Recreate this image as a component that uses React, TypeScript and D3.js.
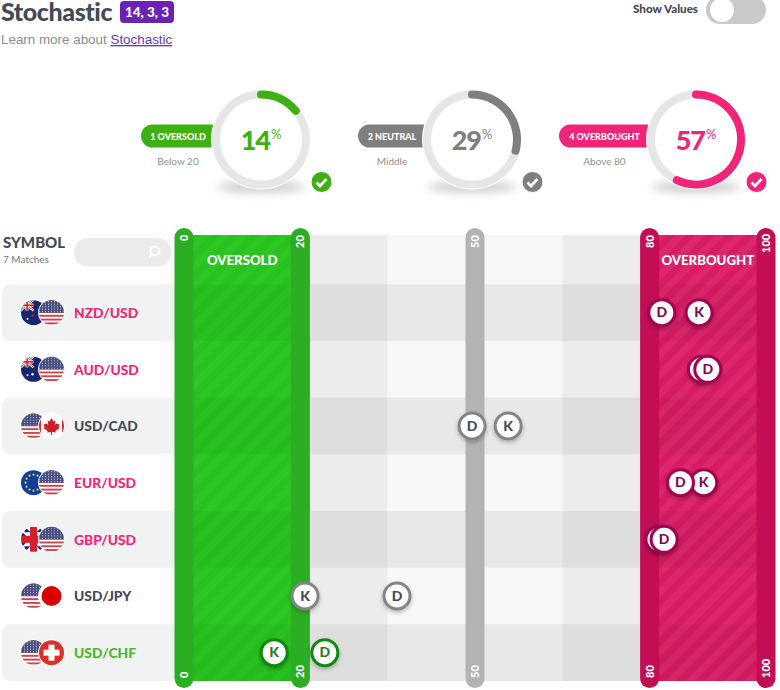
import React from "react";
import * as d3 from "d3";

const FONT = "Lato, 'Noto Sans', sans-serif";
const symbols = ["NZD/USD", "AUD/USD", "USD/CAD", "EUR/USD", "GBP/USD", "USD/JPY", "USD/CHF"];
const kValues = [88.5, 88.9, 55.7, 89.3, 81.6, 20.8, 15.5];
const dValues = [82.1, 90, 49.5, 85.3, 82.5, 36.6, 24.2];
const zones = ["over", "over", "mid", "over", "over", "mid", "under"];
const baseFlags = ["nz", "au", "us", "eu", "gb", "us", "us"];
const quoteFlags = ["us", "us", "ca", "us", "us", "jp", "ch"];
const summaryLabels = ["1 OVERSOLD", "2 NEUTRAL", "4 OVERBOUGHT"];
const summaryNotes = ["Below 20", "Middle", "Above 80"];
const summaryPercents = [14, 29, 57];
const summaryColors = ["#3fb014", "#7f7f7f", "#f0257a"];
const summaryCentres = [261, 472, 696];
const pillLefts = [141, 358, 559];
const axisTicks = [0, 20, 50, 80, 100];
const columnStops = [20, 35, 65, 80];
const columnFills = ["#ececec", "#f7f7f7", "#ececec"];
const shadeStops = [0, 20, 80, 100];
const shadeOpacity = [0.03, 0.06, 0.04];

const x = d3.scaleLinear().domain([0, 100]).range([184, 766]);
const y = d3.scaleBand<number>().domain(d3.range(symbols.length)).range([284.3, 681]);

function ringPath(percent: number) {
  const p = d3.path();
  const start = -Math.PI / 2;
  const end = start + (percent / 100) * 2 * Math.PI;
  p.arc(0, 0, 45, start, percent >= 100 ? start + 2 * Math.PI - 0.0001 : end);
  return p.toString();
}

const zoneStyle: Record<string, { border: string; ink: string; label: string }> = {
  over: { border: "#a30552", ink: "#7d0b55", label: "#f0257a" },
  mid: { border: "#848484", ink: "#454b57", label: "#454b57" },
  under: { border: "#0d8a0d", ink: "#2f7a1e", label: "#4cb52e" },
};

function UsFlag() {
  return (
    <g>
      <rect x={-13} y={-13} width={26} height={26} fill="#fff" />
      {d3.range(0, 7).map((i) => (
        <rect key={i} x={-13} y={-13 + i * 3.8} width={26} height={1.9} fill="#c8474f" />
      ))}
      <rect x={-13} y={-13} width={26} height={13} fill="#47507f" />
      {d3.range(0, 5).map((r) =>
        d3.range(0, 9).map((c) => (
          <circle key={`${r}-${c}`} cx={-12 + c * 3} cy={-11 + r * 2.5} r={0.55} fill="#c9cde0" />
        ))
      )}
    </g>
  );
}

function Flag({ code }: { code: string }) {
  if (code === "us") return <UsFlag />;
  if (code === "nz" || code === "au") {
    return (
      <g>
        <rect x={-13} y={-13} width={26} height={26} fill="#17266e" />
        <path d="M-13,-13L0,-2M0,-13L-13,-2" stroke="#fff" strokeWidth={2.4} />
        <path d="M-13,-13L0,-2M0,-13L-13,-2" stroke="#d0202e" strokeWidth={0.9} />
        <rect x={-13} y={-9} width={13} height={3} fill="#fff" />
        <rect x={-8} y={-13} width={3} height={11} fill="#fff" />
        <rect x={-13} y={-8.2} width={13} height={1.6} fill="#d0202e" />
        <rect x={-7.2} y={-13} width={1.6} height={11} fill="#d0202e" />
        <circle cx={-1} cy={code === "nz" ? 3 : 5} r={1.2} fill={code === "nz" ? "#d0202e" : "#fff"} />
        <circle cx={-6} cy={6} r={1} fill="#fff" />
      </g>
    );
  }
  if (code === "eu") {
    return (
      <g>
        <rect x={-13} y={-13} width={26} height={26} fill="#0f3d9c" />
        {d3.range(0, 12).map((i) => (
          <circle key={i} cx={8 * Math.cos((i * Math.PI) / 6)} cy={8 * Math.sin((i * Math.PI) / 6)} r={1.1} fill="#f2cb2d" />
        ))}
      </g>
    );
  }
  if (code === "gb") {
    return (
      <g>
        <rect x={-13} y={-13} width={26} height={26} fill="#fff" />
        <path d="M-9,-13L-3,-7H-9ZM-13,-9L-7,-3H-13ZM3,-7L9,-13V-7ZM7,-3L13,-9V-3ZM-9,13L-3,7H-9ZM-13,9L-7,3H-13ZM3,7L9,13V7ZM7,3L13,9V3Z" fill="#1c2a76" />
        <rect x={-3.5} y={-13} width={7} height={26} fill="#d41f2e" />
        <rect x={-13} y={-3.5} width={26} height={7} fill="#d41f2e" />
      </g>
    );
  }
  if (code === "ca") {
    return (
      <g>
        <rect x={-13} y={-13} width={26} height={26} fill="#fff" />
        <rect x={-13} y={-13} width={2.5} height={26} fill="#d62b2f" />
        <rect x={10.5} y={-13} width={2.5} height={26} fill="#d62b2f" />
        <path d="M0,-8L2,-4.5L4,-5.5L3.2,-1L5,-2.5L8,-1.5L7,1L8,2L4,5L4.2,6.5L0.6,6L0.6,9H-0.6L-0.6,6L-4.2,6.5L-4,5L-8,2L-7,1L-8,-1.5L-5,-2.5L-3.2,-1L-4,-5.5L-2,-4.5Z" fill="#cf1f26" />
      </g>
    );
  }
  if (code === "jp") {
    return (
      <g>
        <rect x={-13} y={-13} width={26} height={26} fill="#fff" />
        <circle r={10} fill="#d90000" />
      </g>
    );
  }
  return (
    <g>
      <rect x={-13} y={-13} width={26} height={26} fill="#dc2f2a" />
      <rect x={-3} y={-8} width={6} height={16} fill="#fff" />
      <rect x={-8} y={-3} width={16} height={6} fill="#fff" />
    </g>
  );
}

function FlagDisc({ code, cx, cy }: { code: string; cx: number; cy: number }) {
  return (
    <g transform={`translate(${cx},${cy})`}>
      <circle r={13.5} fill="#fff" fillOpacity={0.9} />
      <g clipPath="url(#flagClip)">
        <Flag code={code} />
      </g>
    </g>
  );
}

function Marker({ value, row, letter }: { value: number; row: number; letter: string }) {
  const st = zoneStyle[zones[row]];
  const cy = (y(row) as number) + y.bandwidth() / 2;
  return (
    <g transform={`translate(${x(value)},${cy})`}>
      <circle r={13} fill="#fff" stroke={st.border} strokeWidth={3} filter="url(#markerShadow)" />
      <text y={4.8} textAnchor="middle" fontFamily={FONT} fontWeight={900} fontSize={14} fill={st.ink}>
        {letter}
      </text>
    </g>
  );
}

function Band({ from, to, patternId, base, label }: any) {
  return (
    <g>
      <rect x={x(from)} y={235} width={x(to) - x(from)} height={446} fill={base} />
      <rect x={x(from)} y={235} width={x(to) - x(from)} height={446} fill={`url(#${patternId})`} />
      <text x={(x(from) + x(to)) / 2} y={265} textAnchor="middle" fontFamily={FONT} fontWeight={900} fontSize={13.2} fill="#fff">
        {label}
      </text>
    </g>
  );
}

export default function App() {
  const tickFill = (t: number) => (t < 50 ? "#2cae24" : t === 50 ? "#b3b3b3" : "#c30e56");
  const topStart = (t: number) => (t === 0 ? 241 : t === 100 ? 253 : 248);
  return (
    <svg width={780} height={690} style={{ position: "absolute", left: 0, top: 0, display: "block" }}>
      <defs>
        <clipPath id="flagClip">
          <circle r={12.5} />
        </clipPath>
        <pattern id="greenStripes" width={14} height={14} patternUnits="userSpaceOnUse" patternTransform="rotate(45)">
          <rect width={7} height={14} fill="#35cf2b" fillOpacity={0.4} />
        </pattern>
        <pattern id="pinkStripes" width={14} height={14} patternUnits="userSpaceOnUse" patternTransform="rotate(45)">
          <rect width={7} height={14} fill="#e3387a" fillOpacity={0.4} />
        </pattern>
        <filter id="markerShadow" x="-40%" y="-40%" width="180%" height="190%">
          <feDropShadow dx={0} dy={2} stdDeviation={2} floodColor="#000" floodOpacity={0.28} />
        </filter>
        <filter id="blur7" x="-30%" y="-200%" width="160%" height="500%">
          <feGaussianBlur stdDeviation={4} />
        </filter>
      </defs>

      <text x={1} y={21} fontFamily={FONT} fontWeight={900} fontSize={25} fill="#444a52" letterSpacing={-0.4}>
        Stochastic
      </text>
      <rect x={120} y={1} width={54} height={22} rx={4} fill="#6a22b5" />
      <text x={147} y={17} textAnchor="middle" fontFamily={FONT} fontWeight={900} fontSize={13.5} fill="#fff">
        14, 3, 3
      </text>
      <text x={1} y={44} fontFamily="'Liberation Sans', Arial, sans-serif" fontSize={13.4} fill="#8c8c8c">
        Learn more about{" "}
        <tspan fill="#6a35c4" textDecoration="underline">Stochastic</tspan>
      </text>

      <text x={698} y={13} textAnchor="end" fontFamily={FONT} fontWeight={900} fontSize={11.6} fill="#444a52">
        Show Values
      </text>
      <rect x={706} y={-4} width={60} height={28} rx={14} fill="#c9c9c9" />
      <circle cx={722} cy={10} r={12} fill="#fff" />

      {summaryPercents.map((p, i) => {
        const c = summaryCentres[i];
        const col = summaryColors[i];
        const textX = (pillLefts[i] + c - 49) / 2 + 1.5;
        return (
          <g key={i}>
            <ellipse cx={c} cy={187} rx={44} ry={6} fill="#a8a8a8" opacity={0.55} filter="url(#blur7)" />
            <path
              d={`M${pillLefts[i] + 11.5},124.5H${c - 40}V147.5H${pillLefts[i] + 11.5}A11.5,11.5 0 0 1 ${pillLefts[i] + 11.5},124.5Z`}
              fill={col}
            />
            <text x={textX} y={139.5} textAnchor="middle" fontFamily={FONT} fontWeight={900} fontSize={9} fill="#fff">
              {summaryLabels[i]}
            </text>
            <text x={textX} y={164.5} textAnchor="middle" fontFamily={FONT} fontSize={10} fill="#8f8f8f">
              {summaryNotes[i]}
            </text>
            <g transform={`translate(${c},139.5)`}>
              <circle r={50} fill="#fff" />
              <path d={ringPath(100)} fill="none" stroke="#e6e6e6" strokeWidth={8} />
              <path d={ringPath(p)} fill="none" stroke={col} strokeWidth={8} strokeLinecap="round" />
              <text y={10.5} textAnchor="middle" fontFamily={FONT} fontWeight={900} fontSize={27} letterSpacing={-1} fill={col}>
                {p}
                <tspan fontSize={13} fontWeight={400} letterSpacing={0} dy={-11} dx={1}>%</tspan>
              </text>
            </g>
            <g transform={`translate(${c + 60.5},182)`}>
              <circle r={10.5} fill={col} stroke="#fff" strokeWidth={1} />
              <path d="M-5,0.5L-1.5,4L5,-3" fill="none" stroke="#fff" strokeWidth={2.8} />
            </g>
          </g>
        );
      })}

      <text x={3} y={248} fontFamily={FONT} fontWeight={900} fontSize={15} fill="#444a52">SYMBOL</text>
      <text x={3} y={263} fontFamily={FONT} fontSize={10} fill="#777">7 Matches</text>
      <rect x={74} y={238} width={97} height={28.5} rx={14} fill="#ebebeb" />
      <g fill="none" stroke="#fff" strokeWidth={1.8}>
        <circle cx={155} cy={251} r={4.5} />
        <path d="M152,254.5L148.5,258" />
      </g>

      {columnFills.map((f, i) => (
        <rect key={i} x={x(columnStops[i])} y={235} width={x(columnStops[i + 1]) - x(columnStops[i])} height={446} fill={f} />
      ))}
      <Band from={0} to={20} patternId="greenStripes" base="#28c21e" label="OVERSOLD" />
      <Band from={80} to={100} patternId="pinkStripes" base="#d81c63" label="OVERBOUGHT" />

      {symbols.map((_, i) =>
        i % 2 === 0 ? (
          <g key={i}>
            <path
              d={`M${x(0) - 9},${y(i)}H10a8,8 0 0 0 -8,8V${(y(i) as number) + y.bandwidth() - 8}a8,8 0 0 0 8,8H${x(0) - 9}Z`}
              fill="#f1f2f2"
            />
            {shadeOpacity.map((o, j) => (
              <rect key={j} x={x(shadeStops[j])} y={y(i)} width={x(shadeStops[j + 1]) - x(shadeStops[j])} height={y.bandwidth()} fill="#000" fillOpacity={o} />
            ))}
          </g>
        ) : null
      )}

      {axisTicks.map((t) => (
        <g key={t}>
          <rect x={x(t) - 9.5} y={228} width={19} height={460} rx={9.5} fill={tickFill(t)} />
          <text transform={`translate(${x(t) + 4},${topStart(t)}) rotate(-90)`} fontFamily={FONT} fontWeight={900} fontSize={11} fill="#fff">
            {t}
          </text>
          <text transform={`translate(${x(t) + 4},678) rotate(-90)`} fontFamily={FONT} fontWeight={900} fontSize={11} fill="#fff">
            {t}
          </text>
        </g>
      ))}

      {symbols.map((s, i) => {
        const cy = (y(i) as number) + y.bandwidth() / 2;
        return (
          <g key={s}>
            <FlagDisc code={baseFlags[i]} cx={33.5} cy={cy} />
            <FlagDisc code={quoteFlags[i]} cx={51.5} cy={cy} />
            <text x={74} y={cy + 5.5} fontFamily={FONT} fontWeight={900} fontSize={13.8} fill={zoneStyle[zones[i]].label}>
              {s}
            </text>
          </g>
        );
      })}

      {symbols.map((s, i) => (
        <g key={s}>
          <Marker value={kValues[i]} row={i} letter="K" />
          <Marker value={dValues[i]} row={i} letter="D" />
        </g>
      ))}
    </svg>
  );
}
